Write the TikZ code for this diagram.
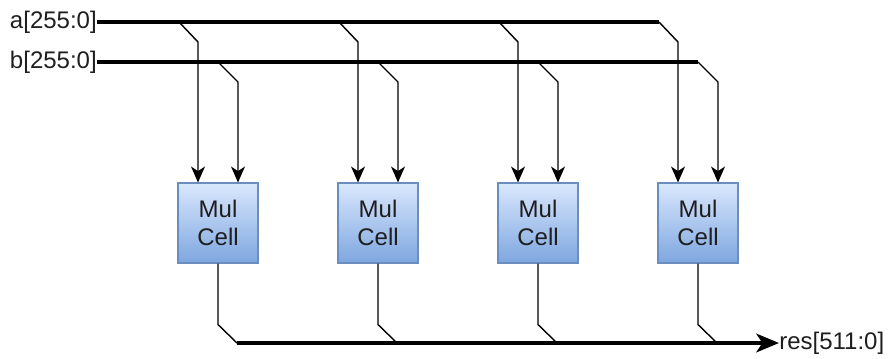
\documentclass[tikz,border=0pt]{standalone}
\usepackage{fontspec}
\setmainfont{Liberation Sans}
\usetikzlibrary{arrows.meta,calc}

\definecolor{cellTop}{HTML}{DAE8FC}
\definecolor{cellBot}{HTML}{7EA6E0}
\definecolor{cellLine}{HTML}{6C8EBF}
\definecolor{txt}{HTML}{1E1E1E}

\tikzset{
  cell/.style={draw=cellLine, line width=0.8pt, top color=cellTop, bottom color=cellBot,
    minimum width=60pt, minimum height=60pt, inner sep=0pt, align=center,
    text=txt, font=\fontsize{18}{20.5}\selectfont},
  sig/.style={text=txt, inner sep=0pt, font=\fontsize{18}{20.5}\selectfont},
  bus/.style={line width=2.6pt, black},
  tap/.style={line width=1.05pt, black},
  tip/.style={-{Stealth[length=12pt, width=10.5pt, inset=3.5pt]}},
  bigtip/.style={-{Stealth[length=17pt, width=14pt, inset=4.5pt]}}
}

\begin{document}
\begin{tikzpicture}[x=0.75pt, y=-0.75pt]
  \useasboundingbox (0,0) rectangle (889,358);

  % input and output bus labels
  \node[sig, anchor=east] (la) at (97,22) {a[255:0]};
  \node[sig, anchor=east] (lb) at (97,62) {b[255:0]};
  \node[sig, anchor=west] (lres) at (779,343) {res[511:0]};

  % multiplier cells
  \foreach \i/\x in {1/218, 2/378, 3/538, 4/698} {
    \node[cell] (c\i) at (\x,223) {Mul\\Cell};
    \coordinate (at\i) at (\x-39,22);
    \coordinate (bt\i) at (\x,62);
    \coordinate (rt\i) at (\x+19,343);
  }

  % input buses
  \draw[bus] (la.east) -- (at4);
  \draw[bus] (lb.east) -- (bt4);

  % taps from the input buses into each cell
  \foreach \i in {1,...,4} {
    \draw[tap, tip] (at\i) -- ++(19,20) -- ($(c\i.north)+(-20,0)$);
    \draw[tap, tip] (bt\i) -- ++(20,20) -- ($(c\i.north)+(20,0)$);
    \draw[tap] (c\i.south) -- ++(0,61) -- (rt\i);
  }

  % result bus
  \draw[bus, bigtip] (rt1) -- (lres.west);
\end{tikzpicture}
\end{document}
